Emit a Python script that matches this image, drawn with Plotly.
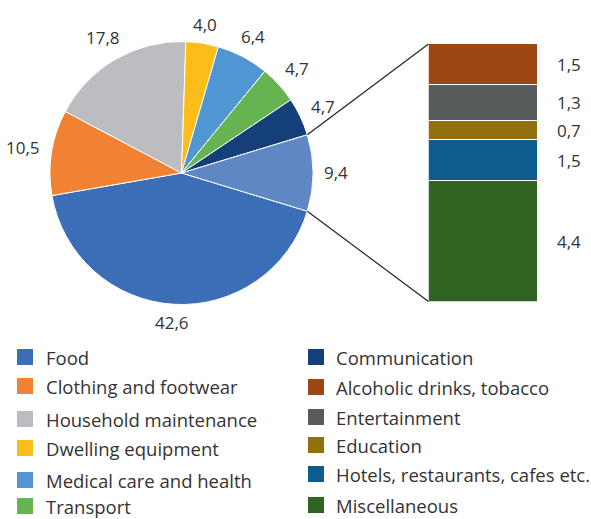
import numpy as np
import plotly.graph_objects as go

# ---------------- data ----------------
pie_labels = ["Food", "Clothing and footwear", "Household maintenance", "Dwelling equipment",
              "Medical care and health", "Transport", "Communication", "Other"]
pie_values = [42.6, 10.5, 17.8, 4.0, 6.4, 4.7, 4.7, 9.4]
pie_colors = ["#3A6EB6", "#F28233", "#BCBDC0", "#FDBD18", "#4F96D2", "#65B351", "#143F78", "#5F87C4"]

bar_labels = ["Miscellaneous", "Hotels, restaurants, cafes etc.", "Education",
              "Entertainment", "Alcoholic drinks, tobacco"]          # bottom -> top
bar_values = [4.4, 1.5, 0.7, 1.3, 1.5]
bar_colors = ["#316423", "#0E5C8E", "#93700E", "#575B5C", "#9C4713"]

legend_left = ["Food", "Clothing and footwear", "Household maintenance",
               "Dwelling equipment", "Medical care and health", "Transport"]
legend_left_colors = ["#3A6EB6", "#F28233", "#BCBDC0", "#FDBD18", "#4F96D2", "#65B351"]
legend_right = ["Communication", "Alcoholic drinks, tobacco", "Entertainment",
                "Education", "Hotels, restaurants, cafes etc.", "Miscellaneous"]
legend_right_colors = ["#143F78", "#9C4713", "#575B5C", "#93700E", "#0E5C8E", "#316423"]

W, H = 591, 519
FONT = "Open Sans"
TXT = "#333333"
LBL = 17

# ---------------- layout geometry ----------------
pcx, pcy, pr = 181.5, 173.0, 131.5             # pie center / radius in px
pie_dom_x = [(pcx - pr) / W, (pcx + pr) / W]
pie_dom_y = [(H - pcy - pr) / H, (H - pcy + pr) / H]
total = sum(pie_values)
rotation = 90 + 0.5 * pie_values[-1] / total * 360  # center "Other" at 3 o'clock

bx0, bx1, by0, by1 = 428.5, 537.5, 44.0, 301.5  # bar box in px
bar_dom_x = [bx0 / W, bx1 / W]
bar_dom_y = [(H - by1) / H, (H - by0) / H]

fig = go.Figure()

fig.add_trace(go.Pie(
    labels=pie_labels, values=pie_values, sort=False, direction="clockwise",
    rotation=rotation, domain=dict(x=pie_dom_x, y=pie_dom_y),
    marker=dict(colors=pie_colors, line=dict(color="white", width=1)),
    textinfo="none", showlegend=False, hoverinfo="label+value",
))

for lab, val, col in zip(bar_labels, bar_values, bar_colors):
    fig.add_trace(go.Bar(
        x=[0], y=[val], name=lab, marker=dict(color=col, line=dict(color="white", width=1)),
        width=1, xaxis="x", yaxis="y", showlegend=False,
    ))

def fmt(v):
    return f"{v:.1f}".replace(".", ",")

annotations = []

# pie value labels, placed outside each slice along its mid-angle
cum_pie = np.cumsum([0] + pie_values)
for i, val in enumerate(pie_values):
    mid = rotation + (cum_pie[i] + cum_pie[i + 1]) / 2 / total * 360   # clockwise from 12
    a = np.radians(mid)
    sx, sy = np.sin(a), np.cos(a)
    txt = fmt(val)
    w = sum(0.26 if ch == "," else 0.572 for ch in txt) * LBL
    h = 13
    d = pr + 11 + abs(sx) * w / 2 + abs(sy) * h / 2
    px, py = pcx + d * sx, pcy - d * sy
    annotations.append(dict(x=px / W, y=1 - py / H, xref="paper", yref="paper", text=txt,
                            showarrow=False, xanchor="center", yanchor="middle",
                            font=dict(family=FONT, size=LBL, color=TXT)))

# bar value labels
cum = np.cumsum([0] + bar_values)
for i, val in enumerate(bar_values):
    annotations.append(dict(
        x=(bx1 + 17) / W, xref="paper", y=(cum[i] + cum[i + 1]) / 2, yref="y",
        text=fmt(val), showarrow=False, xanchor="left", yanchor="middle",
        font=dict(family=FONT, size=LBL, color=TXT)))

# connector lines: from the "Other" slice edges to the bar corners
start_other = rotation + sum(pie_values[:-1]) / total * 360    # clockwise from 12 o'clock
end_other = start_other + pie_values[-1] / total * 360
def pie_pt(a_deg):
    a = np.radians(a_deg)
    return pcx + pr * np.sin(a), pcy - pr * np.cos(a)
ux, uy = pie_pt(start_other)   # upper edge
lx, ly = pie_pt(end_other)     # lower edge
shapes = [
    dict(type="line", xref="paper", yref="paper", x0=ux / W, y0=1 - uy / H, x1=bx0 / W, y1=1 - by0 / H,
         line=dict(color="#222222", width=1.2)),
    dict(type="line", xref="paper", yref="paper", x0=lx / W, y0=1 - ly / H, x1=bx0 / W, y1=1 - by1 / H,
         line=dict(color="#222222", width=1.2)),
]

# manual legend (two columns)
left_rows = [357, 386, 419, 448, 480, 506]
right_rows = [357, 387, 417, 445, 474, 505]
def add_legend(names, colors, rows, sx, tx):
    for n, c, yy in zip(names, colors, rows):
        shapes.append(dict(type="rect", xref="paper", yref="paper",
                           x0=sx / W, x1=(sx + 16) / W, y0=1 - (yy + 8) / H, y1=1 - (yy - 8) / H,
                           fillcolor=c, line=dict(width=0)))
        annotations.append(dict(x=tx / W, y=1 - yy / H, xref="paper", yref="paper", text=n,
                                showarrow=False, xanchor="left", yanchor="middle",
                                font=dict(family=FONT, size=18.5, color=TXT)))
add_legend(legend_left, legend_left_colors, left_rows, 17, 44)
add_legend(legend_right, legend_right_colors, right_rows, 308, 334)

fig.update_layout(
    width=W, height=H, margin=dict(l=0, r=0, t=0, b=0),
    paper_bgcolor="white", plot_bgcolor="white", barmode="stack", bargap=0,
    separators=", ",
    xaxis=dict(domain=bar_dom_x, range=[-0.5, 0.5], visible=False, fixedrange=True),
    yaxis=dict(domain=bar_dom_y, range=[0, sum(bar_values)], visible=False, fixedrange=True),
    shapes=shapes, annotations=annotations,
    font=dict(family=FONT, color=TXT),
)

fig.write_html("out.html", config={"displayModeBar": False},
               post_script="document.body.style.margin='0';")
